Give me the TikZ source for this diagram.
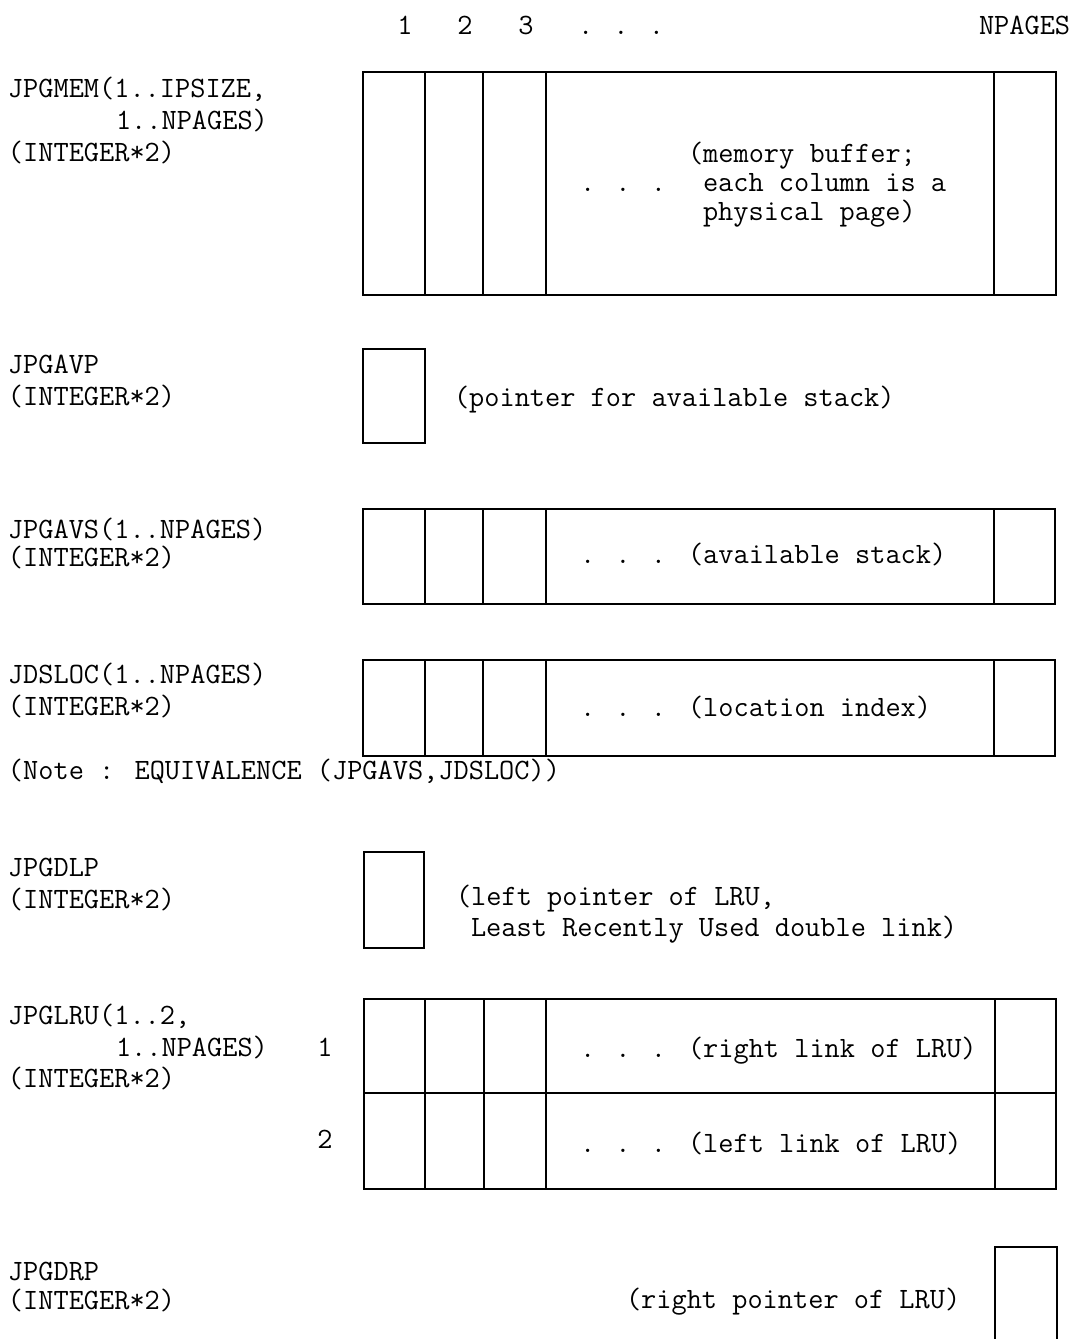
\documentclass[tikz,border=0pt]{standalone}
\begin{document}
\begin{tikzpicture}[x=1pt,y=-1pt,
  txt/.style={inner sep=0pt,outer sep=0pt,anchor=base west,font=\ttfamily\fontsize{29.5}{30}\selectfont},
  ctxt/.style={txt,anchor=base},
  box/.style={draw=black,line width=2pt,line join=miter}]
\useasboundingbox (0,0) rectangle (1074,1339);
\fill[white] (0,0) rectangle (1074,1339);

% header
\node[ctxt] (h1) at (405,34) {1};
\node[ctxt] (h2) at (465,34) {2};
\node[ctxt] (h3) at (526,34) {3};
\node[txt] (hdots) at (578,34) {. . .};
\node[txt] (hnp) at (979,34) {NPAGES};

% JPGMEM
\node[txt] (memA) at (8,97) {JPGMEM(1..IPSIZE,};
\node[txt] (memB) at (116,129) {1..NPAGES)};
\node[txt] (memC) at (8,161) {(INTEGER*2)};
\draw[box] (363,72) rectangle (1056,295);
\foreach \x in {425,483,546,994} \draw[box] (\x,72) -- (\x,295);
\node[txt] (memT1) at (688,162) {(memory buffer;};
\node[txt] (memD) at (580,191) {. . .};
\node[txt] (memT2) at (703,191) {each column is a};
\node[txt] (memT3) at (703,220) {physical page)};

% JPGAVP
\node[txt] (avpA) at (8,373) {JPGAVP};
\node[txt] (avpB) at (8,405) {(INTEGER*2)};
\draw[box] (363,349) rectangle (425,443);
\node[txt] (avpT) at (454,406) {(pointer for available stack)};

% JPGAVS
\node[txt] (avsA) at (8,538) {JPGAVS(1..NPAGES)};
\node[txt] (avsB) at (8,566) {(INTEGER*2)};
\draw[box] (363,509) rectangle (1055,604);
\foreach \x in {425,483,546,994} \draw[box] (\x,509) -- (\x,604);
\node[txt] (avsD) at (580,563) {. . .};
\node[txt] (avsT) at (688,563) {(available stack)};

% JDSLOC
\node[txt] (dslA) at (8,683) {JDSLOC(1..NPAGES)};
\node[txt] (dslB) at (8,715) {(INTEGER*2)};
\draw[box] (363,660) rectangle (1055,756);
\foreach \x in {425,483,546,994} \draw[box] (\x,660) -- (\x,756);
\node[txt] (dslD) at (580,716) {. . .};
\node[txt] (dslT) at (688,716) {(location index)};
\node[txt] (note) at (8,779) {(Note : EQUIVALENCE (JPGAVS,JDSLOC))};

% JPGDLP
\node[txt] (dlpA) at (8,876) {JPGDLP};
\node[txt] (dlpB) at (8,908) {(INTEGER*2)};
\draw[box] (364,852) rectangle (424,948);
\node[txt] (dlpT1) at (456,905) {(left pointer of LRU,};
\node[txt] (dlpT2) at (471,936) {Least Recently Used double link)};

% JPGLRU
\node[txt] (lruA) at (8,1024) {JPGLRU(1..2,};
\node[txt] (lruB) at (116,1056) {1..NPAGES)};
\node[txt] (lruC) at (8,1087) {(INTEGER*2)};
\node[ctxt] (lru1) at (325,1056) {1};
\node[ctxt] (lru2) at (325,1148) {2};
\draw[box] (364,999) rectangle (1056,1189);
\draw[box] (364,1093) -- (1056,1093);
\foreach \x in {425,484,546,995} \draw[box] (\x,999) -- (\x,1189);
\node[txt] (lruD1) at (580,1057) {. . .};
\node[txt] (lruT1) at (688,1057) {(right link of LRU)};
\node[txt] (lruD2) at (580,1152) {. . .};
\node[txt] (lruT2) at (688,1152) {(left link of LRU)};

% JPGDRP
\node[txt] (drpA) at (8,1280) {JPGDRP};
\node[txt] (drpB) at (8,1309) {(INTEGER*2)};
\node[txt] (drpT) at (626,1308) {(right pointer of LRU)};
\draw[box] (995,1345) -- (995,1247) -- (1057,1247) -- (1057,1345);
\end{tikzpicture}
\end{document}
